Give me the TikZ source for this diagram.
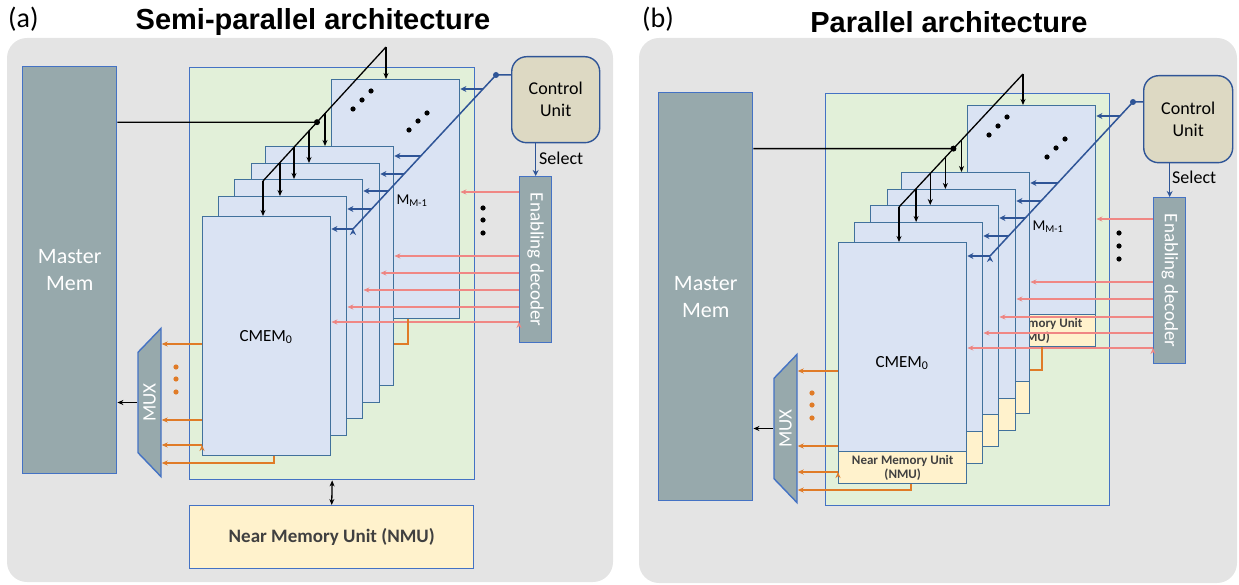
\documentclass[tikz,border=0pt]{standalone}
\usepackage{fontspec}
\setmainfont{Carlito}
\newfontfamily\ttlfont{Liberation Sans}
\usetikzlibrary{positioning,calc,arrows.meta,shapes.geometric}

\definecolor{bgGray}{HTML}{E4E4E4}
\definecolor{memGray}{HTML}{97A9AC}
\definecolor{edgeBlue}{HTML}{4472C4}
\definecolor{layerBlue}{HTML}{DAE3F3}
\definecolor{layerEdge}{HTML}{41719C}
\definecolor{greenFill}{HTML}{E2F0D9}
\definecolor{nmuFill}{HTML}{FFF2CC}
\definecolor{cuFill}{HTML}{DDD9C3}
\definecolor{ctrlBlue}{HTML}{2F5597}
\definecolor{enRed}{HTML}{F08784}
\definecolor{outOrange}{HTML}{E07B27}
\definecolor{nmuText}{HTML}{404040}

\tikzset{
	panel/.style={fill=bgGray, rounded corners=20pt},
	box/.style={draw=edgeBlue, line width=1.4pt, anchor=north west, inner sep=0pt, align=center},
	mmem/.style={box, fill=memGray, text=white, font=\fontsize{22}{27}\selectfont},
	grn/.style={box, fill=greenFill},
	nmu/.style={box, fill=nmuFill, text=nmuText, font=\bfseries\fontsize{19}{22}\selectfont},
	cmem/.style={box, draw=layerEdge, fill=layerBlue, minimum width=128pt},
	cell/.style={box, draw=layerEdge, fill=nmuFill, minimum width=128pt, minimum height=32pt, text=nmuText, font=\bfseries\fontsize{13}{14.5}\selectfont},
	ctrl/.style={box, draw=ctrlBlue, fill=cuFill, rounded corners=15pt, font=\fontsize{18}{22}\selectfont},
	dec/.style={box, fill=memGray, text=white, font=\fontsize{19}{22}\selectfont, minimum width=32pt, minimum height=166pt},
	mux/.style={trapezium, trapezium stretches=true, trapezium left angle=53.5, trapezium right angle=53.5, minimum width=149pt, minimum height=23pt, rotate=90, draw=edgeBlue, fill=memGray, line width=1.4pt, inner sep=0pt, text=white, font=\fontsize{19}{22}\selectfont},
	lbl/.style={inner sep=0pt, font=\fontsize{17}{20}\selectfont},
	barr/.style={-{Stealth[length=6pt,width=5pt]}, line width=1.3pt},
	carr/.style={-{Stealth[length=6pt,width=6pt]}, draw=ctrlBlue, line width=1.5pt},
	rarr/.style={-{Stealth[length=6pt,width=5pt]}, draw=enRed, line width=1.5pt},
	oarr/.style={-{Stealth[length=6pt,width=5pt]}, draw=outOrange, line width=1.5pt},
}

\begin{document}
\begin{tikzpicture}[x=1pt, y=-1pt]
	\useasboundingbox (0,0) rectangle (1239,585);
	\fill[panel] (7,38) rectangle (613,582);
	\fill[panel] (639,38) rectangle (1237,583);

	% titles
	\node[anchor=base west, inner sep=0pt, font=\fontsize{28}{30}\selectfont] (alab) at (8,28) {(a)};
	\node[anchor=base, inner sep=0pt, font=\ttlfont\bfseries\fontsize{29}{32}\selectfont] (attl) at (313,30) {Semi-parallel architecture};
	\node[anchor=base west, inner sep=0pt, font=\fontsize{28}{30}\selectfont] (blab) at (642,28) {(b)};
	\node[anchor=base, inner sep=0pt, font=\ttlfont\bfseries\fontsize{29}{32}\selectfont] (bttl) at (949,33) {Parallel architecture};

	% (a) semi-parallel
	\node[mmem, minimum width=94pt, minimum height=407pt] (amm) at (22,66) {Master\\Mem};
	\node[grn, minimum width=285pt, minimum height=412pt] (agrn) at (189,67) {};
	\node[nmu, minimum width=284pt, minimum height=63pt] (anmu) at (189,505) {Near Memory Unit (NMU)};
	\node[ctrl, minimum width=88pt, minimum height=86pt] (acu) at (511,56) {Control\\Unit};
	\node[dec] (adec) at (519,176) {\rotatebox{-90}{Enabling decoder}};
	\node[mux] (amux) at (149.5,402.5) {MUX};

	\node[cmem, minimum height=239pt] (aback) at (331,79) {};
	\node[cmem, minimum height=239pt] (aL4) at (265,146) {};
	\node[cmem, minimum height=239pt] (aL3) at (251,163) {};
	\node[cmem, minimum height=239pt] (aL2) at (234,179) {};
	\node[cmem, minimum height=239pt] (aL1) at (218,196) {};
	\node[cmem, minimum height=239pt] (afront) at (202,216) {};
	\node[lbl, font=\fontsize{15}{18}\selectfont] (amlast) at (412,201) {M\textsubscript{M-1}};
	\node[lbl] (acm0) at (266,337) {CMEM\textsubscript{0}};

	\draw[{Stealth[length=6pt,width=5pt]}-{Stealth[length=6pt,width=5pt]}, line width=1.3pt] (agrn.south) -- (anmu.north);
	\draw[carr] (acu.south -| adec.north) -- (adec.north);
	\node[anchor=west, inner sep=0pt, font=\fontsize{18}{20}\selectfont] (asel) at (539,158) {Select};

	% data bus
	\coordinate (abt) at (386,47);
	\coordinate (abb) at (263,181);
	\path ($(abb)!0.439!(abt)$) coordinate (abd)
		($(abb)!0.504!(abt)$) coordinate (at4)
		($(abb)!0.374!(abt)$) coordinate (at3)
		($(abb)!0.252!(abt)$) coordinate (at2)
		($(abb)!0.138!(abt)$) coordinate (at1);
	\draw[line width=1.3pt] (abd -| amm.east) -- (abd) (abb) -- (abt);
	\fill (abd) circle (3pt);
	\path[barr]
		(abt) edge (abt |- aback.north)
		(at4) edge (at4 |- aL4.north)
		(at3) edge (at3 |- aL3.north)
		(at2) edge (at2 |- aL2.north)
		(at1) edge (at1 |- aL1.north)
		(abb) edge (abb |- afront.north);

	% control bus
	\coordinate (acd) at (496,75);
	\coordinate (acb) at (353,229);
	\path ($(acd)!0.091!(acb)$) coordinate (as5)
		($(acd)!0.526!(acb)$) coordinate (as4)
		($(acd)!0.643!(acb)$) coordinate (as3)
		($(acd)!0.753!(acb)$) coordinate (as2)
		($(acd)!0.870!(acb)$) coordinate (as1);
	\draw[ctrlBlue, line width=1.5pt] (acd -| acu.west) -- (acd) -- (acb);
	\fill[ctrlBlue] (acd) circle (3pt);
	\path[carr]
		(as5) edge (as5 -| aback.east)
		(as4) edge (as4 -| aL4.east)
		(as3) edge (as3 -| aL3.east)
		(as2) edge (as2 -| aL2.east)
		(as1) edge (as1 -| aL1.east)
		(acb) edge (acb -| afront.east);

	% enable lines
	\path[rarr]
		(adec.west |- 0,192) edge (aback.east |- 0,192)
		(adec.west |- 0,256) edge (aL4.east |- 0,256)
		(adec.west |- 0,273) edge (aL3.east |- 0,273)
		(adec.west |- 0,290) edge (aL2.east |- 0,290)
		(adec.west |- 0,307) edge (aL1.east |- 0,307)
		(adec.west |- 0,322) edge (afront.east |- 0,322);

	% outputs to mux
	\draw[outOrange, line width=1.5pt] (aback.south -| 408,0) |- (aL4.east |- 0,344);
	\path[oarr]
		(afront.west |- 0,344) edge (amux.south |- 0,344)
		(afront.west |- 0,420) edge (amux.south |- 0,420)
		(afront.west |- 0,445) edge (amux.south |- 0,445);
	\draw[oarr] (afront.south -| 274,0) |- (amux.south |- 0,463);
	\draw[barr] (amux.north) -- (amux.north -| amm.east);

	\fill (353,109) circle (2.6pt) (362,100) circle (2.6pt) (371,91) circle (2.6pt);
	\fill (409,130) circle (2.6pt) (418,121) circle (2.6pt) (427,113) circle (2.6pt);
	\fill (483,208) circle (2.6pt) (483,220) circle (2.6pt) (483,233) circle (2.6pt);
	\fill[outOrange] (176,367) circle (2.6pt) (176,379) circle (2.6pt) (176,392) circle (2.6pt);

	% (b) parallel
	\begin{scope}[shift={(636,26)}]
	\node[mmem, minimum width=94pt, minimum height=408pt] (bmm) at (22,66) {Master\\Mem};
	\node[grn, minimum width=284pt, minimum height=412pt] (bgrn) at (189,67) {};
	\node[ctrl, minimum width=89pt, minimum height=87pt] (bcu) at (507,49) {Control\\Unit};
	\node[dec] (bdec) at (517,171) {\rotatebox{-90}{Enabling decoder}};
	\node[mux] (bmux) at (149.5,402.5) {MUX};

	\node[cmem, minimum height=209pt] (bback) at (331,79) {};
	\node[cell, below=-1.4pt of bback] (bbackn) {Near Memory Unit\\(NMU)};
	\node[cmem, minimum height=209pt] (bL4) at (265,146) {};
	\node[cell, below=-1.4pt of bL4] (bL4n) {};
	\node[cmem, minimum height=209pt] (bL3) at (251,163) {};
	\node[cell, below=-1.4pt of bL3] (bL3n) {};
	\node[cmem, minimum height=209pt] (bL2) at (234,179) {};
	\node[cell, below=-1.4pt of bL2] (bL2n) {};
	\node[cmem, minimum height=209pt] (bL1) at (218,196) {};
	\node[cell, below=-1.4pt of bL1] (bL1n) {};
	\node[cmem, minimum height=209pt] (bfront) at (202,216) {};
	\node[cell, below=-1.4pt of bfront] (bfrontn) {Near Memory Unit\\(NMU)};
	\node[lbl, font=\fontsize{15}{18}\selectfont] (bmlast) at (412,201) {M\textsubscript{M-1}};
	\node[lbl] (bcm0) at (266,337) {CMEM\textsubscript{0}};

	\draw[carr] (bcu.south -| bdec.north) -- (bdec.north);
	\node[anchor=west, inner sep=0pt, font=\fontsize{18}{20}\selectfont] (bsel) at (536,151) {Select};

	% data bus
	\coordinate (bbt) at (387,48);
	\coordinate (bbb) at (263,181);
	\path ($(bbb)!0.439!(bbt)$) coordinate (bbd)
		($(bbb)!0.504!(bbt)$) coordinate (bt4)
		($(bbb)!0.374!(bbt)$) coordinate (bt3)
		($(bbb)!0.252!(bbt)$) coordinate (bt2)
		($(bbb)!0.138!(bbt)$) coordinate (bt1);
	\draw[line width=1.3pt] (bbd -| bmm.east) -- (bbd) (bbb) -- (bbt);
	\fill (bbd) circle (3pt);
	\path[barr]
		(bbt) edge (bbt |- bback.north)
		(bt4) edge (bt4 |- bL4.north)
		(bt3) edge (bt3 |- bL3.north)
		(bt2) edge (bt2 |- bL2.north)
		(bt1) edge (bt1 |- bL1.north)
		(bbb) edge (bbb |- bfront.north);

	% control bus
	\coordinate (bcd) at (497,76);
	\coordinate (bcb) at (354,230);
	\path ($(bcd)!0.091!(bcb)$) coordinate (bs5)
		($(bcd)!0.526!(bcb)$) coordinate (bs4)
		($(bcd)!0.643!(bcb)$) coordinate (bs3)
		($(bcd)!0.753!(bcb)$) coordinate (bs2)
		($(bcd)!0.870!(bcb)$) coordinate (bs1);
	\draw[ctrlBlue, line width=1.5pt] (bcd -| bcu.west) -- (bcd) -- (bcb);
	\fill[ctrlBlue] (bcd) circle (3pt);
	\path[carr]
		(bs5) edge (bs5 -| bback.east)
		(bs4) edge (bs4 -| bL4.east)
		(bs3) edge (bs3 -| bL3.east)
		(bs2) edge (bs2 -| bL2.east)
		(bs1) edge (bs1 -| bL1.east)
		(bcb) edge (bcb -| bfront.east);

	% enable lines
	\path[rarr]
		(bdec.west |- 0,193) edge (bback.east |- 0,193)
		(bdec.west |- 0,256) edge (bL4.east |- 0,256)
		(bdec.west |- 0,273) edge (bL3.east |- 0,273)
		(bdec.west |- 0,291) edge (bL2.east |- 0,291)
		(bdec.west |- 0,307) edge (bL1.east |- 0,307)
		(bdec.west |- 0,322) edge (bfront.east |- 0,322);

	% outputs to mux
	\draw[outOrange, line width=1.5pt] (bbackn.south -| 406,0) |- (bL4.east |- 0,344);
	\path[oarr]
		(bfront.west |- 0,345) edge (bmux.south |- 0,345)
		(bfront.west |- 0,420) edge (bmux.south |- 0,420)
		(bfront.west |- 0,446) edge (bmux.south |- 0,446);
	\draw[oarr] (bfrontn.south -| 275,0) |- (bmux.south |- 0,464);
	\draw[barr] (bmux.north) -- (bmux.north -| bmm.east);

	\fill (353,109) circle (2.6pt) (362,100) circle (2.6pt) (371,91) circle (2.6pt);
	\fill (411,131) circle (2.6pt) (420,122) circle (2.6pt) (429,113) circle (2.6pt);
	\fill (483,207) circle (2.6pt) (483,220) circle (2.6pt) (483,233) circle (2.6pt);
	\fill[outOrange] (176,367) circle (2.6pt) (176,379) circle (2.6pt) (176,392) circle (2.6pt);
	\end{scope}
\end{tikzpicture}
\end{document}
